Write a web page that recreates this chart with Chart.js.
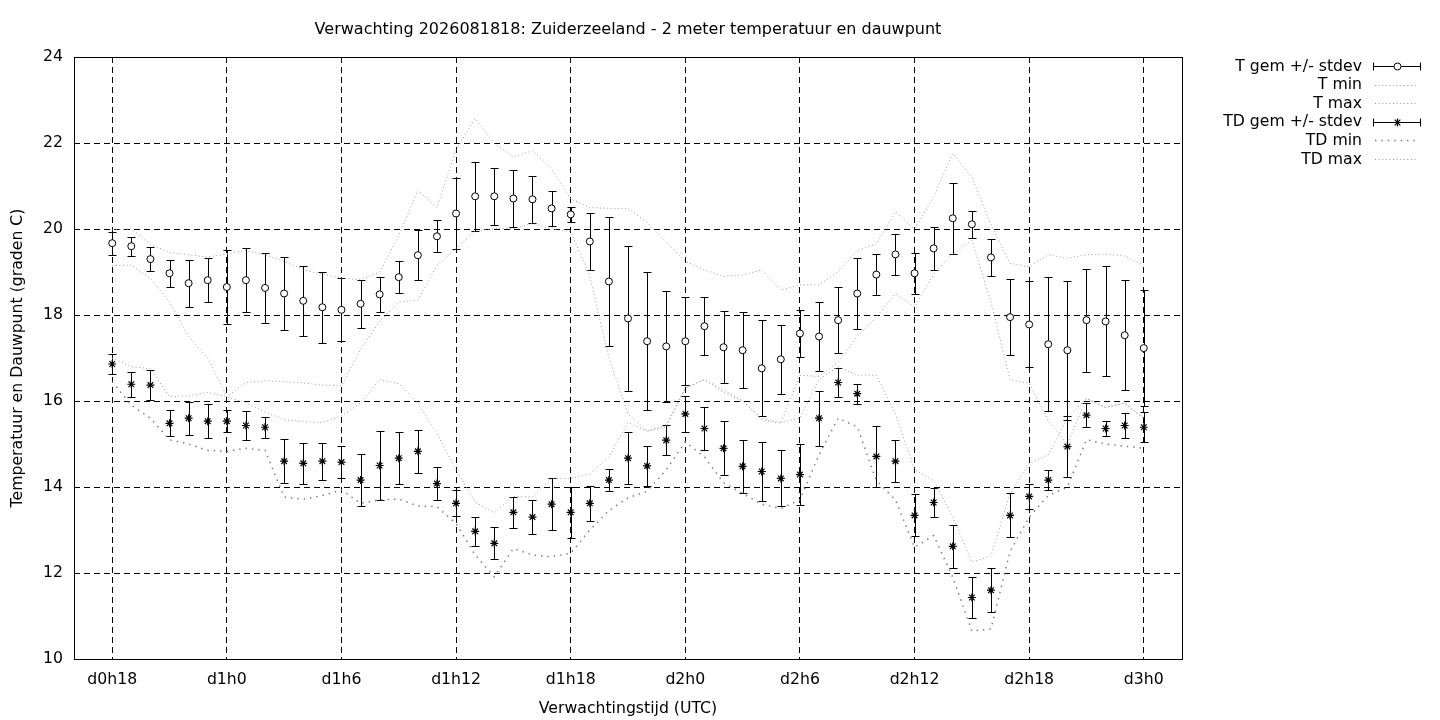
<!DOCTYPE html>
<html>
<head>
<meta charset="utf-8">
<script src="https://cdn.jsdelivr.net/npm/chart.js@4"></script>
<style>
html,body{margin:0;padding:0;background:#fff;}
canvas{display:block;}
</style>
</head>
<body>
<canvas id="c" width="1440" height="720"></canvas>
<script>
const titleText = 'Verwachting 2026081818: Zuiderzeeland - 2 meter temperatuur en dauwpunt';
const xTitle = 'Verwachtingstijd (UTC)';
const yTitle = 'Temperatuur en Dauwpunt (graden C)';

// hours after d0h18
const hours = [0,1,2,3,4,5,6,7,8,9,10,11,12,13,14,15,16,17,18,19,20,21,22,23,24,25,26,27,28,29,30,31,32,33,34,35,36,37,38,39,40,41,42,43,44,45,46,47,48,49,50,51,52,53,54];
const tickHours = [0,6,12,18,24,30,36,42,48,54];
const tickLabels = ['d0h18','d1h0','d1h6','d1h12','d1h18','d2h0','d2h6','d2h12','d2h18','d3h0'];
const yTicks = [10,12,14,16,18,20,22,24];

const tMean = [19.67,19.60,19.30,18.97,18.74,18.81,18.65,18.81,18.63,18.50,
               18.33,18.18,18.12,18.26,18.48,18.88,19.39,19.83,20.36,20.76,
               20.76,20.71,20.69,20.48,20.34,19.71,18.78,17.92,17.39,17.27,
               17.39,17.74,17.25,17.18,16.76,16.97,17.57,17.50,17.88,18.50,
               18.94,19.41,18.97,19.55,20.25,20.11,19.34,17.95,17.78,17.32,
               17.18,17.88,17.85,17.53,17.23];
const tStd = [0.27,0.22,0.27,0.31,0.55,0.51,0.86,0.74,0.82,0.84,
              0.82,0.82,0.73,0.56,0.41,0.37,0.58,0.37,0.82,0.80,
              0.67,0.66,0.54,0.40,0.17,0.67,1.49,1.68,1.60,1.29,
              1.02,0.68,0.84,0.88,1.12,0.80,0.55,0.80,0.77,0.82,
              0.47,0.48,0.47,0.50,0.82,0.32,0.43,0.89,1.00,1.56,
              1.62,1.20,1.28,1.28,1.34];
const tMin = [19.15,19.16,18.85,18.30,17.50,17.00,16.10,16.43,16.47,16.45,
              16.42,16.37,16.35,17.20,17.85,18.30,18.35,19.15,19.55,19.95,
              20.01,20.01,20.13,20.00,19.94,18.90,17.00,15.70,15.30,15.45,
              16.30,16.50,16.26,16.00,15.56,15.48,16.60,16.57,16.90,17.50,
              17.95,18.50,18.19,18.95,19.43,19.74,18.30,16.49,16.41,15.55,
              15.00,16.06,15.85,15.95,15.60];
const tMax = [19.98,20.00,19.65,19.45,19.40,19.35,19.42,19.50,19.40,19.25,
              19.05,18.95,18.86,18.82,19.00,19.85,20.90,20.50,21.85,22.57,
              21.99,21.68,21.82,21.40,20.70,20.50,20.48,20.48,20.15,19.70,
              19.25,19.05,18.90,18.93,19.05,18.58,18.70,18.70,19.00,19.50,
              19.65,20.40,20.00,20.75,21.76,21.20,20.10,19.20,19.12,19.40,
              19.32,19.40,19.42,19.37,19.16];

const tdMean = [16.86,16.39,16.37,15.48,15.60,15.53,15.53,15.43,15.39,14.60,
                14.55,14.60,14.58,14.16,14.50,14.67,14.83,14.08,13.62,12.97,
                12.69,13.41,13.30,13.60,13.41,13.62,14.16,14.67,14.49,15.09,
                15.70,15.36,14.90,14.48,14.36,14.20,14.29,15.60,16.43,16.17,
                14.71,14.60,13.34,13.64,12.62,11.43,11.60,13.34,13.78,14.16,
                14.94,15.67,15.36,15.43,15.39];
const tdStd = [0.23,0.29,0.35,0.30,0.38,0.40,0.26,0.34,0.24,0.51,
               0.48,0.43,0.38,0.61,0.80,0.60,0.50,0.39,0.30,0.34,
               0.37,0.36,0.40,0.60,0.60,0.40,0.26,0.60,0.46,0.35,
               0.42,0.50,0.63,0.62,0.69,0.65,0.72,0.64,0.34,0.23,
               0.72,0.49,0.49,0.34,0.50,0.47,0.51,0.51,0.30,0.24,
               0.70,0.28,0.17,0.29,0.35];
const tdMin = [16.45,15.90,15.60,15.10,15.00,14.85,14.83,14.90,14.85,13.77,
               13.71,13.80,13.93,13.62,13.70,13.72,13.56,13.54,13.15,12.42,
               11.91,12.57,12.42,12.38,12.46,13.00,13.45,13.75,13.90,14.40,
               15.05,14.70,14.10,13.85,13.60,13.50,13.70,14.75,15.60,15.40,
               14.15,13.70,12.60,12.87,11.90,10.65,10.70,12.50,13.30,13.80,
               14.00,15.10,15.00,14.95,14.90];
const tdMax = [17.00,16.80,16.75,16.10,16.12,16.20,16.10,15.95,15.75,15.56,
               15.52,15.50,15.65,15.95,16.50,16.40,15.95,15.25,14.40,13.65,
               13.40,13.78,13.77,14.20,14.20,14.30,14.70,15.50,15.30,15.40,
               16.30,16.50,16.20,16.00,15.60,15.50,15.60,16.50,16.80,16.60,
               16.60,15.70,14.40,14.15,13.30,12.25,12.40,13.85,14.55,14.75,
               15.60,16.06,15.85,15.95,15.60];

const legendLabels = ['T gem +/- stdev','T min','T max','TD gem +/- stdev','TD min','TD max'];

const FONT = 'DejaVu Sans';
const FS = 15.7;
const lightDot = {color:'#9a9a9a', width:1, dash:[1,2.6]};
const darkDot  = {color:'#7a7a7a', width:1.5, dash:[1.4,5]};

function pts(vals){ return hours.map((h,i)=>({x:h, y:vals[i]})); }
function lineDs(label, vals, st){
  return {type:'line', label, data:pts(vals), borderColor:st.color, borderWidth:st.width,
          borderDash:st.dash, pointRadius:0, fill:false, tension:0, showLine:true};
}

function drawStar(ctx, cx, cy, r){
  ctx.beginPath();
  ctx.moveTo(cx-r, cy); ctx.lineTo(cx+r, cy);
  ctx.moveTo(cx, cy-r); ctx.lineTo(cx, cy+r);
  const d = r*0.7071;
  ctx.moveTo(cx-d, cy-d); ctx.lineTo(cx+d, cy+d);
  ctx.moveTo(cx-d, cy+d); ctx.lineTo(cx+d, cy-d);
  ctx.stroke();
}

const errorBars = {
  id:'errorBars',
  beforeDatasetsDraw(chart){
    const {ctx, scales:{x,y}} = chart;
    ctx.save();
    ctx.strokeStyle = '#000';
    ctx.lineWidth = 1;
    ctx.setLineDash([]);
    const draw = (m, s) => {
      for (let i=0;i<hours.length;i++){
        const px = Math.round(x.getPixelForValue(hours[i])) + 0.5;
        const top = Math.round(y.getPixelForValue(m[i]+s[i])) + 0.5;
        const bot = Math.round(y.getPixelForValue(m[i]-s[i])) + 0.5;
        ctx.beginPath();
        ctx.moveTo(px, top); ctx.lineTo(px, bot);
        ctx.moveTo(px-4, top); ctx.lineTo(px+4, top);
        ctx.moveTo(px-4, bot); ctx.lineTo(px+4, bot);
        ctx.stroke();
      }
    };
    draw(tMean, tStd);
    draw(tdMean, tdStd);
    ctx.restore();
  }
};

const frameAndLegend = {
  id:'frameAndLegend',
  afterDraw(chart){
    const {ctx, chartArea:a} = chart;
    ctx.save();
    ctx.strokeStyle = '#000';
    ctx.lineWidth = 1;
    ctx.setLineDash([]);
    ctx.strokeRect(Math.round(a.left)+0.5, Math.round(a.top)+0.5,
                   Math.round(a.right-a.left), Math.round(a.bottom-a.top));
    // legend
    const textRight = 1362, s0 = 1373, s1 = 1420, y0 = 66, dy = 18.6;
    ctx.font = FS + 'px "' + FONT + '"';
    ctx.fillStyle = '#000';
    ctx.textAlign = 'right';
    ctx.textBaseline = 'middle';
    const styles = ['bar', lightDot, lightDot, 'bar', darkDot, lightDot];
    legendLabels.forEach((lab, i) => {
      const yy = y0 + i*dy;
      ctx.fillText(lab, textRight, yy + 0.5);
      const st = styles[i];
      const ly = Math.round(yy) + 0.5;
      if (st === 'bar') {
        ctx.strokeStyle = '#000'; ctx.lineWidth = 1; ctx.setLineDash([]);
        ctx.beginPath();
        ctx.moveTo(s0+0.5, ly); ctx.lineTo(s1+0.5, ly);
        ctx.moveTo(s0+0.5, ly-4); ctx.lineTo(s0+0.5, ly+4);
        ctx.moveTo(s1+0.5, ly-4); ctx.lineTo(s1+0.5, ly+4);
        ctx.stroke();
        const cx = Math.round((s0+s1)/2)+0.5;
        if (i === 0) {
          ctx.beginPath(); ctx.arc(cx, ly, 3.5, 0, Math.PI*2);
          ctx.fillStyle = '#fff'; ctx.fill(); ctx.stroke(); ctx.fillStyle = '#000';
        } else {
          ctx.lineWidth = 1.2;
          drawStar(ctx, cx, ly, 4);
        }
      } else {
        ctx.strokeStyle = st.color; ctx.lineWidth = st.width; ctx.setLineDash(st.dash);
        ctx.beginPath(); ctx.moveTo(s0+2, ly); ctx.lineTo(s1-2, ly); ctx.stroke();
      }
    });
    ctx.restore();
  }
};

Chart.defaults.font.family = FONT;
Chart.defaults.font.size = FS;
Chart.defaults.color = '#000';

new Chart(document.getElementById('c'), {
  type:'line',
  data:{
    datasets:[
      {type:'line', label:'T gem +/- stdev', data:pts(tMean), showLine:false,
       pointStyle:'circle', pointRadius:3.5, pointBackgroundColor:'#fff',
       pointBorderColor:'#000', pointBorderWidth:1},
      {type:'line', label:'TD gem +/- stdev', data:pts(tdMean), showLine:false,
       pointStyle:'star', pointRadius:4, pointBackgroundColor:'#000',
       pointBorderColor:'#000', pointBorderWidth:1.2},
      lineDs('T min', tMin, lightDot),
      lineDs('T max', tMax, lightDot),
      lineDs('TD min', tdMin, darkDot),
      lineDs('TD max', tdMax, lightDot)
    ]
  },
  options:{
    responsive:false,
    animation:false,
    devicePixelRatio:1,
    events:[],
    layout:{padding:{left:0, right:258, top:0, bottom:0}},
    plugins:{
      legend:{display:false},
      tooltip:{enabled:false},
      title:{display:true, text:titleText, fullSize:false, color:'#000',
             font:{family:FONT, size:16, weight:'normal'},
             padding:{top:20.4, bottom:17.4}}
    },
    scales:{
      x:{
        type:'linear', min:-2, max:56,
        afterBuildTicks(scale){ scale.ticks = tickHours.map(v=>({value:v})); },
        afterFit(scale){ scale.height = 61; },
        ticks:{ padding:12, maxRotation:0, autoSkip:false, color:'#000',
                callback:(v)=>{ const k = tickHours.indexOf(v); return k>=0 ? tickLabels[k] : ''; } },
        grid:{ color:'#000', lineWidth:1, drawTicks:false },
        border:{ display:false, dash:[6,4] },
        title:{ display:true, text:xTitle, color:'#000', padding:{top:0,bottom:2} }
      },
      y:{
        type:'linear', min:10, max:24,
        afterBuildTicks(scale){ scale.ticks = yTicks.map(v=>({value:v})); },
        afterFit(scale){ scale.width = 74; },
        ticks:{ padding:11, color:'#000', callback:(v)=>String(v) },
        grid:{ color:'#000', lineWidth:1, drawTicks:false },
        border:{ display:false, dash:[6,4] },
        title:{ display:true, text:yTitle, color:'#000', padding:{top:9,bottom:0} }
      }
    }
  },
  plugins:[errorBars, frameAndLegend]
});
</script>
</body>
</html>
